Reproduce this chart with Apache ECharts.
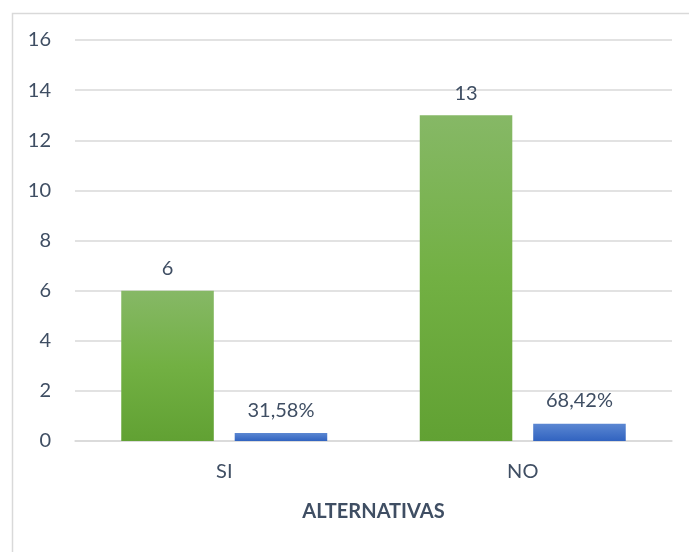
<!DOCTYPE html>
<html><head><meta charset="utf-8">
<script src="https://cdn.jsdelivr.net/npm/echarts@6/dist/echarts.min.js"></script>
<style>html,body{margin:0;padding:0;background:#fff}#c{width:689px;height:552px}</style>
</head><body><div id="c"></div>
<script>
const categories = ['SI', 'NO'];
const counts = [6, 13];
const shares = [0.3158, 0.6842];
const shareLabels = ['31,58%', '68,42%'];
const yTicks = {min: 0, max: 16, interval: 2};

const txt = '#3F4E63';
const font = 'Lato';
const chart = echarts.init(document.getElementById('c'));
chart.setOption({
  animation: false,
  graphic: [{type: 'rect', left: 10, top: 11, shape: {width: 700, height: 560}, style: {fill: 'none', stroke: '#d9d9d9', lineWidth: 1.5}}],
  grid: {left: 75, right: 17, top: 40, bottom: 111, containLabel: false},
  xAxis: {
    type: 'category', data: categories,
    name: 'ALTERNATIVAS', nameLocation: 'middle', nameGap: 61,
    nameTextStyle: {fontFamily: font, fontWeight: 'bold', fontSize: 20, color: txt},
    axisLine: {lineStyle: {color: '#d9d9d9', width: 1.5}},
    axisTick: {show: false},
    axisLabel: {fontFamily: font, fontSize: 20, color: txt, margin: 21}
  },
  yAxis: {
    type: 'value', min: yTicks.min, max: yTicks.max, interval: yTicks.interval,
    axisLine: {show: false}, axisTick: {show: false},
    splitLine: {lineStyle: {color: '#d9d9d9', width: 1.5}},
    axisLabel: {fontFamily: font, fontSize: 20, color: txt, margin: 24}
  },
  series: [
    {type: 'bar', data: counts, barWidth: '31%', barGap: '22.6%',
     itemStyle: {color: new echarts.graphic.LinearGradient(0, 0, 0, 1, [
       {offset: 0, color: '#86B866'}, {offset: 0.5, color: '#72B043'}, {offset: 1, color: '#61A133'}])},
     label: {show: true, position: 'top', distance: 12, fontFamily: font, fontSize: 20, color: txt}},
    {type: 'bar', data: shares, barWidth: '31%',
     itemStyle: {color: new echarts.graphic.LinearGradient(0, 0, 0, 1, [
       {offset: 0, color: '#5B87D2'}, {offset: 1, color: '#3163C0'}])},
     label: {show: true, position: 'top', distance: 13, fontFamily: font, fontSize: 20, color: txt,
       formatter: p => shareLabels[p.dataIndex]}}
  ]
});
</script></body></html>
